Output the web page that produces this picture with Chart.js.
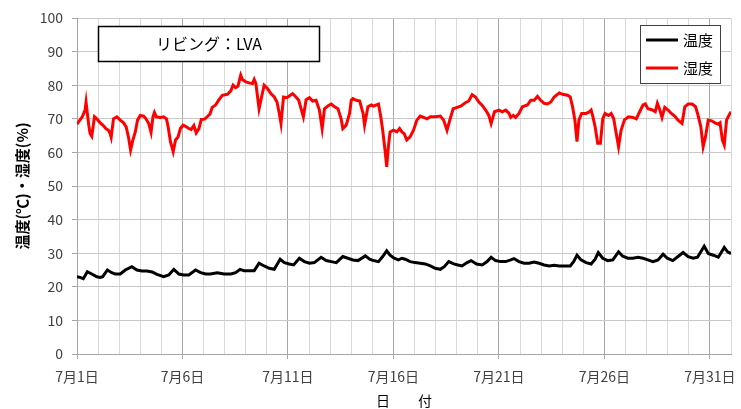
<!DOCTYPE html>
<html>
<head>
<meta charset="utf-8">
<script src="https://cdn.jsdelivr.net/npm/chart.js@4"></script>
<style>
  body { margin: 0; background: #fff; }
  #wrap { width: 741px; height: 409px; }
</style>
</head>
<body>
<div id="wrap"><canvas id="chart"></canvas></div>
<script>
// x values are days since 7/1 00:00
const humidDays = [0.00,0.25,0.38,0.43,0.49,0.56,0.62,0.70,0.83,0.94,1.10,1.25,1.38,1.49,1.57,1.62,1.73,1.89,2.05,2.21,2.33,2.44,2.54,2.65,2.76,2.87,3.00,3.16,3.27,3.40,3.51,3.60,3.67,3.76,3.95,4.11,4.24,4.32,4.43,4.56,4.67,4.79,4.90,5.03,5.14,5.30,5.41,5.54,5.65,5.78,5.89,6.05,6.17,6.30,6.41,6.57,6.73,6.89,7.13,7.29,7.40,7.52,7.63,7.76,7.84,8.00,8.16,8.32,8.40,8.48,8.56,8.63,8.75,8.87,9.03,9.19,9.35,9.48,9.59,9.67,9.79,9.95,10.11,10.22,10.38,10.51,10.62,10.73,10.86,11.02,11.17,11.33,11.49,11.62,11.73,11.89,12.05,12.21,12.37,12.52,12.60,12.76,12.92,13.00,13.08,13.24,13.40,13.56,13.63,13.79,13.95,14.05,14.29,14.40,14.49,14.60,14.68,14.76,14.84,15.00,15.16,15.29,15.40,15.51,15.63,15.79,15.95,16.11,16.27,16.43,16.59,16.75,16.98,17.22,17.38,17.54,17.67,17.83,18.02,18.21,18.41,18.57,18.73,18.89,19.05,19.21,19.37,19.52,19.63,19.79,20.00,20.16,20.32,20.48,20.56,20.68,20.79,20.95,21.11,21.35,21.51,21.67,21.83,21.98,22.14,22.30,22.46,22.62,22.86,23.02,23.25,23.38,23.49,23.60,23.70,23.79,23.92,24.13,24.29,24.37,24.44,24.56,24.68,24.81,24.92,25.03,25.19,25.32,25.44,25.56,25.67,25.79,25.95,26.14,26.35,26.51,26.67,26.83,26.94,27.06,27.25,27.41,27.51,27.63,27.73,27.86,28.02,28.17,28.33,28.49,28.68,28.81,28.97,29.16,29.32,29.44,29.57,29.68,29.79,29.92,30.08,30.24,30.40,30.48,30.59,30.68,30.79,30.90,31.00];
const humidity = [68.4,70.6,72.5,75.0,71.6,68.0,65.6,64.8,70.6,70.0,68.8,68.0,67.0,66.6,65.6,64.5,70.0,70.6,69.6,68.8,67.6,64.6,60.7,63.7,66.0,69.6,71.0,70.8,70.0,68.6,66.0,70.6,71.9,70.6,70.4,70.6,70.0,67.6,63.2,60.2,63.7,64.6,67.1,68.1,67.8,67.1,66.8,68.0,65.8,67.1,69.8,69.9,70.6,71.4,73.4,74.1,75.7,77.0,77.3,78.3,80.0,79.3,79.7,83.0,81.7,81.0,80.7,80.5,81.7,80.5,76.5,73.0,76.5,80.0,79.0,77.5,76.5,75.0,71.6,68.6,76.5,76.3,77.0,77.5,76.5,75.5,73.0,70.6,75.7,76.3,75.3,75.5,72.6,67.1,73.0,73.8,74.4,73.6,73.0,70.0,67.1,68.1,71.6,75.5,76.0,75.5,75.3,71.6,68.1,73.6,74.1,73.8,74.4,70.6,66.6,60.7,55.7,61.7,66.1,66.6,66.1,67.1,66.1,65.6,63.7,64.6,66.6,69.6,70.8,70.4,70.0,70.6,70.6,70.8,69.6,66.6,69.6,73.0,73.4,73.8,74.8,75.3,77.2,76.5,75.0,74.0,72.6,71.0,68.6,72.1,72.6,72.1,72.6,71.6,70.4,71.0,70.4,71.6,73.6,74.1,75.5,75.5,76.7,75.5,74.6,74.4,75.0,76.5,77.7,77.3,77.0,76.5,73.6,69.6,63.2,69.6,71.6,71.6,72.1,72.6,71.0,67.6,62.7,62.7,70.0,71.6,71.0,71.6,70.0,65.6,61.7,66.6,69.7,70.6,70.4,70.0,72.1,74.1,74.4,73.0,72.7,72.1,74.6,72.6,70.4,73.4,72.6,71.6,70.8,69.6,68.6,73.6,74.4,74.4,73.6,71.0,67.6,61.7,64.6,69.6,69.4,68.8,68.4,68.8,63.7,62.2,69.6,71.0,72.1];

const tempDays = [0.00,0.14,0.30,0.49,0.70,0.94,1.10,1.22,1.44,1.65,1.81,2.05,2.29,2.60,2.84,3.08,3.32,3.56,3.79,4.11,4.35,4.59,4.83,5.06,5.30,5.62,5.86,6.10,6.33,6.65,6.97,7.29,7.52,7.73,7.92,8.16,8.40,8.63,8.87,9.11,9.35,9.63,9.83,10.06,10.27,10.54,10.78,11.02,11.25,11.57,11.81,12.05,12.29,12.60,12.84,13.08,13.32,13.67,13.87,14.05,14.29,14.49,14.68,14.84,15.03,15.24,15.40,15.56,15.79,16.03,16.27,16.51,16.75,16.98,17.22,17.41,17.62,17.86,18.05,18.25,18.49,18.68,18.94,19.21,19.44,19.63,19.84,20.08,20.32,20.56,20.71,20.95,21.19,21.43,21.67,21.90,22.14,22.38,22.62,22.86,23.10,23.38,23.54,23.70,23.89,24.13,24.37,24.56,24.71,24.92,25.16,25.40,25.67,25.87,26.11,26.35,26.59,26.83,27.06,27.30,27.54,27.78,27.98,28.24,28.49,28.73,28.97,29.21,29.41,29.73,29.92,30.16,30.40,30.68,30.84,31.00];
const temperature = [23.0,22.8,22.4,24.5,23.8,23.0,22.8,23.0,25.0,24.2,23.8,23.8,25.0,26.0,25.0,24.7,24.7,24.4,23.7,23.0,23.5,25.2,23.8,23.5,23.5,25.0,24.2,23.8,23.8,24.2,23.8,23.8,24.2,25.2,24.8,24.8,24.8,27.0,26.2,25.5,25.2,28.2,27.2,26.8,26.5,28.5,27.5,27.0,27.2,28.8,27.8,27.5,27.2,29.0,28.5,28.0,27.8,29.2,28.2,27.8,27.5,29.0,30.7,29.4,28.5,28.0,28.5,28.2,27.5,27.2,27.0,26.8,26.2,25.5,25.2,26.0,27.5,26.8,26.5,26.2,27.2,27.8,26.8,26.5,27.5,28.8,27.8,27.5,27.5,28.0,28.4,27.5,27.0,27.0,27.4,27.0,26.5,26.2,26.4,26.2,26.2,26.2,27.5,29.4,28.0,27.2,26.8,28.2,30.2,28.5,27.8,28.0,30.4,29.1,28.5,28.5,28.8,28.5,28.0,27.5,28.0,29.7,28.5,27.8,29.0,30.2,29.0,28.5,28.8,32.1,29.9,29.4,28.8,31.7,30.4,29.9];

const xMin = 0;
const xMax = 31;
const yTicks = [0, 10, 20, 30, 40, 50, 60, 70, 80, 90, 100];
const chartTitle = 'リビング：LVA';
const seriesNames = ['温度', '湿度'];
const seriesColors = ['#000000', '#ff0000'];

const jpFont = '"Noto Sans CJK JP", "Noto Sans", sans-serif';

function toPoints(xs, ys) {
    return xs.map((x, i) => ({ x: x, y: ys[i] }));
}

// title box and in-plot legend, drawn like the original Excel chart
const boxesPlugin = {
    id: 'boxes',
    afterDraw(chart) {
        const ctx = chart.ctx;
        ctx.save();

        // title box
        ctx.fillStyle = '#ffffff';
        ctx.fillRect(98, 26, 221, 35);
        ctx.strokeStyle = '#000000';
        ctx.lineWidth = 1.5;
        ctx.strokeRect(98.5, 26.5, 221, 35);
        ctx.fillStyle = '#000000';
        ctx.font = '16px ' + jpFont;
        ctx.textAlign = 'center';
        ctx.textBaseline = 'middle';
        ctx.fillText(chartTitle, 209, 44);

        // legend box
        ctx.fillStyle = '#ffffff';
        ctx.fillRect(640, 25, 80, 58);
        ctx.strokeStyle = '#404040';
        ctx.lineWidth = 1;
        ctx.strokeRect(640.5, 25.5, 80, 58);
        ctx.textAlign = 'left';
        ctx.font = '15px ' + jpFont;
        chart.data.datasets.forEach((ds, i) => {
            const y = 40 + i * 28;
            ctx.strokeStyle = ds.borderColor;
            ctx.lineWidth = 3;
            ctx.beginPath();
            ctx.moveTo(646, y);
            ctx.lineTo(678, y);
            ctx.stroke();
            ctx.fillStyle = '#000000';
            ctx.fillText(ds.label, 683, y);
        });
        ctx.restore();
    }
};

new Chart(document.getElementById('chart'), {
    type: 'line',
    data: {
        datasets: [{
            label: seriesNames[0],
            data: toPoints(tempDays, temperature),
            borderColor: seriesColors[0],
            borderWidth: 3,
            pointRadius: 0,
            tension: 0
        }, {
            label: seriesNames[1],
            data: toPoints(humidDays, humidity),
            borderColor: seriesColors[1],
            borderWidth: 3,
            pointRadius: 0,
            tension: 0
        }]
    },
    options: {
        responsive: true,
        maintainAspectRatio: false,
        animation: false,
        events: [],
        layout: { padding: { top: 18, right: 10, left: 0, bottom: 0 } },
        plugins: {
            legend: { display: false },
            tooltip: { enabled: false }
        },
        scales: {
            x: {
                type: 'linear',
                min: xMin,
                max: xMax,
                afterFit: s => { s.height = 55; },
                afterBuildTicks: s => {
                    s.ticks = [];
                    for (let d = xMin; d <= xMax; d++) s.ticks.push({ value: d });
                },
                ticks: {
                    autoSkip: false,
                    maxRotation: 0,
                    padding: 9,
                    color: '#404040',
                    font: { family: jpFont, size: 14 },
                    callback: v => (v % 5 === 0 && v < xMax) ? '7月' + (v + 1) + '日' : ''
                },
                grid: {
                    color: c => (c.tick && c.tick.value % 5 === 0) ? '#a6a6a6' : '#d9d9d9',
                    tickColor: c => (c.tick && c.tick.value % 5 === 0 && c.tick.value < xMax) ? '#a6a6a6' : 'rgba(0,0,0,0)',
                    tickLength: 5,
                    lineWidth: 1
                },
                border: { color: '#a6a6a6' },
                title: {
                    display: true,
                    text: '日　　付',
                    color: '#000000',
                    font: { family: jpFont, size: 14 },
                    padding: { top: 0, bottom: 0 }
                }
            },
            y: {
                min: 0,
                max: 100,
                afterFit: s => { s.width = 77; },
                afterBuildTicks: s => {
                    s.ticks = yTicks.map(v => ({ value: v }));
                },
                ticks: {
                    padding: 9,
                    color: '#404040',
                    font: { family: jpFont, size: 14 }
                },
                grid: {
                    color: '#c8c8c8',
                    tickColor: '#a6a6a6',
                    tickLength: 5
                },
                border: { color: '#a6a6a6' },
                title: {
                    display: true,
                    text: '温度(℃)・湿度(%)',
                    color: '#000000',
                    font: { family: jpFont, size: 15, weight: 'bold' },
                    padding: { top: 13, bottom: 0 }
                }
            }
        }
    },
    plugins: [boxesPlugin]
});
</script>
</body>
</html>
